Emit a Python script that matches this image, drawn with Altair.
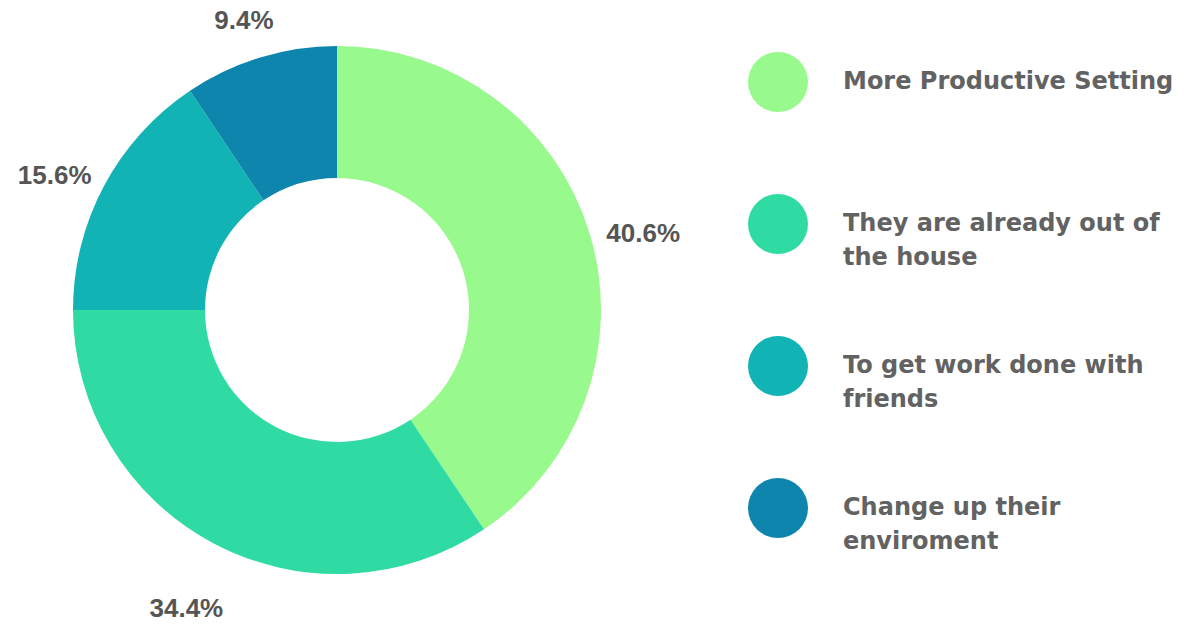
import altair as alt
import pandas as pd

categories = [
    "More Productive Setting",
    "They are already out of the house",
    "To get work done with friends",
    "Change up their enviroment",
]
legend_labels = [
    "More Productive Setting",
    "They are already out of\nthe house",
    "To get work done with\nfriends",
    "Change up their\nenviroment",
]
values = [40.6, 34.4, 15.6, 9.4]
pct_labels = ["40.6%", "34.4%", "15.6%", "9.4%"]
colors = ["#98f98c", "#30dba3", "#12b3b5", "#0d85ad"]

df = pd.DataFrame({
    "category": categories,
    "legend": legend_labels,
    "value": values,
    "pct": pct_labels,
    "order": list(range(len(categories))),
})

color = alt.Color("category:N", scale=alt.Scale(domain=categories, range=colors), legend=None)

base = alt.Chart(df).encode(
    theta=alt.Theta("value:Q", stack=True),
    order=alt.Order("order:Q", sort="ascending"),
)

arcs = base.mark_arc(innerRadius=132, outerRadius=264, strokeWidth=0).encode(color=color)
labels = base.mark_text(
    radius=320, dy=17, font="Liberation Sans", fontSize=26, fontWeight="bold", color="#555555"
).encode(text="pct:N")

donut = alt.layer(arcs, labels).properties(width=674, height=620)

yscale = alt.Scale(type="point", domain=categories, range=[82, 508], padding=0)
leg_base = alt.Chart(df).encode(y=alt.Y("category:N", scale=yscale, axis=None))
dots = leg_base.mark_point(shape="circle", filled=True, size=3600, opacity=1).encode(
    x=alt.value(104), color=color
)
texts = leg_base.mark_text(
    align="left", baseline="middle", font="DejaVu Sans", fontSize=24, fontWeight="bold",
    color="#626262", lineBreak="\n", lineHeight=34,
).encode(x=alt.value(169), text="legend:N")

legend = alt.layer(dots, texts).properties(width=500, height=620)

chart = alt.hconcat(donut, legend, spacing=0, bounds="flush").properties(
    padding=0, background="white"
).configure_view(stroke=None)

chart.save("out.html", embed_options={"renderer": "svg", "actions": False})
